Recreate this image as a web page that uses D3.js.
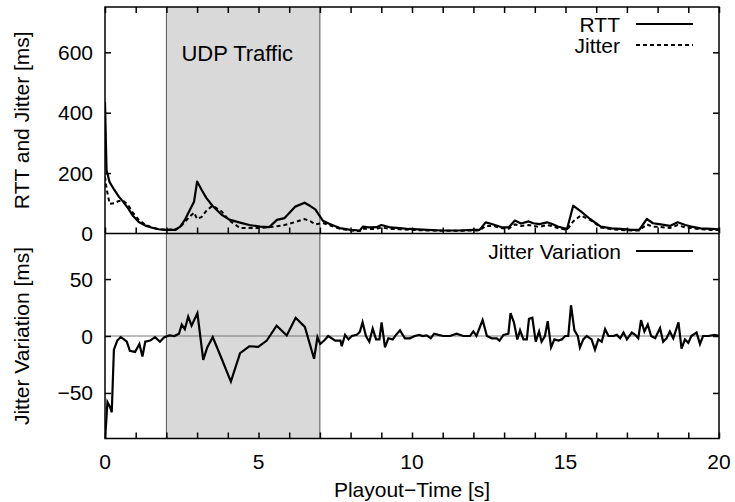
<!DOCTYPE html>
<html>
<head>
<meta charset="utf-8">
<script src="https://cdn.jsdelivr.net/npm/d3@7"></script>
<style>
  body { margin: 0; background: #fff; }
  svg { font-family: "Liberation Sans", Arial, sans-serif; }
</style>
</head>
<body>
<div id="chart"></div>
<script>
// Oberes Panel: RTT und Jitter
const topTime = [0, 0.05, 0.15, 0.3, 0.45, 0.6, 0.75, 0.9, 1.1, 1.3, 1.5, 1.75, 2.0, 2.3, 2.45, 2.6, 2.75, 2.9, 3.0, 3.15,
  3.3, 3.5, 3.8, 4.05, 4.4, 4.7, 5.05, 5.35, 5.6, 5.85, 6.2, 6.5, 6.7, 6.85, 7.1, 7.3, 7.65, 8.0, 8.3, 8.4,
  8.6, 8.85, 9.0, 9.3, 9.6, 9.9, 10.5, 11.0, 11.5, 12.0, 12.2, 12.4, 12.65, 12.95, 13.15, 13.35, 13.55, 13.8, 13.95, 14.15,
  14.4, 14.55, 14.75, 15.05, 15.25, 15.5, 15.8, 16.15, 16.5, 16.8, 17.15, 17.4, 17.65, 17.85, 18.05, 18.4, 18.65, 18.9, 19.1, 19.4,
  19.75, 20];
const rttValues = [435, 210, 170, 145, 122, 104, 84, 60, 38, 27, 20, 14, 12, 12, 23, 45, 75, 105, 172, 144,
  118, 92, 62, 46, 36, 28, 23, 21, 45, 51, 89, 102, 90, 80, 42, 32, 18, 12, 10, 23,
  20, 21, 28, 20, 18, 15, 12, 10, 10, 12, 12, 37, 30, 20, 20, 43, 33, 40, 34, 31,
  37, 32, 23, 15, 92, 73, 48, 23, 17, 15, 12, 12, 48, 34, 31, 25, 37, 28, 23, 17,
  15, 14];
const jitterValues = [188, 150, 98, 100, 108, 108, 95, 70, 45, 30, 21, 14, 12, 14, 22, 38, 55, 69, 48, 55,
  75, 92, 73, 43, 18, 18, 18, 21, 24, 28, 38, 48, 40, 30, 35, 28, 16, 10, 8, 16,
  15, 15, 20, 15, 14, 12, 10, 9, 9, 10, 10, 25, 25, 17, 16, 30, 25, 28, 25, 22,
  28, 25, 18, 12, 40, 60, 45, 20, 14, 12, 10, 10, 30, 22, 22, 18, 28, 20, 18, 14,
  12, 12];

// Unteres Panel: Jitter-Variation
const varTime = [0, 0.08, 0.16, 0.22, 0.29, 0.4, 0.51, 0.62, 0.71, 0.81, 0.98, 1.12, 1.22, 1.31, 1.47, 1.63, 1.79, 1.93, 2.1, 2.26,
  2.41, 2.5, 2.6, 2.71, 2.82, 3.01, 3.2, 3.33, 3.51, 3.8, 4.1, 4.4, 4.7, 4.99, 5.27, 5.59, 5.92, 6.21, 6.51, 6.81,
  6.92, 7.01, 7.14, 7.27, 7.5, 7.67, 7.71, 7.82, 7.93, 8.04, 8.2, 8.3, 8.39, 8.5, 8.61, 8.72, 8.83, 8.94, 9.01, 9.12,
  9.23, 9.37, 9.48, 9.61, 9.77, 9.93, 10.09, 10.24, 10.35, 10.48, 10.61, 10.72, 10.86, 11.02, 11.24, 11.45, 11.67, 11.89, 12.0, 12.1,
  12.3, 12.44, 12.6, 12.76, 12.85, 12.98, 13.14, 13.21, 13.32, 13.43, 13.52, 13.63, 13.74, 13.81, 13.92, 14.03, 14.14, 14.22, 14.33, 14.42,
  14.53, 14.64, 14.77, 14.88, 14.99, 15.09, 15.18, 15.29, 15.4, 15.47, 15.58, 15.69, 15.85, 15.96, 16.07, 16.18, 16.29, 16.4, 16.56, 16.67,
  16.78, 16.89, 17.0, 17.16, 17.27, 17.37, 17.46, 17.57, 17.68, 17.79, 17.92, 18.08, 18.18, 18.29, 18.4, 18.51, 18.68, 18.78, 18.89, 19.0,
  19.1, 19.27, 19.38, 19.48, 19.65, 19.86, 20];
const varValues = [-92, -58, -62, -67, -12, -4, -1, -3, -5, -13, -14, -7, -18, -5, -4, -1, -5, -1, 0.5, 0,
  2, 10, 6, 17, 9, 20, -21, -10, -1, -20, -40, -15, -9, -9.5, -4, 9, 0.5, 16, 8, -20,
  -1, -7, -4, 0, -4, -4, -9, 1, -3, 0, 1, 3.5, 12, 0, -5, 6.5, -3, -3, 12, -10,
  -2, -3, 1, 5, -2, -2, 0, 1, 0, 0.5, -2, 2, 1, 0, 0, 2, 0, 0, 4, 0,
  14, 0, -2, -2, -4, 1, 2, 20, 12, -3, 5, -3, -3, 15, 16, -5, 4, -5, 0, 13,
  -10, -3, -4, -3, 0, 0, 27, 5, 0, -10, -3, 0, -3, -12, -3, -5, 6, 0, 0, 1,
  -2, 3, -3, 3, 1, -2, 14, 4, 10, 0, -2, 7, -5, -2, 4, -2, 12, -11, -3, -6,
  0, 3, -7, 0, 0, 1, 0];

const udpRange = [2, 7];
const xTicks = [0, 5, 10, 15, 20];
const topTicks = [0, 200, 400, 600];
const bottomTicks = [-50, 0, 50];

const width = 735, height = 502;
const left = 105, right = 719;
const top1 = 7, bottom1 = 233.5, bottom2 = 438.5;
const fs = "21px";

const svg = d3.select("#chart").append("svg")
  .attr("width", width).attr("height", height);

const x = d3.scaleLinear().domain([0, 20]).range([left, right]);
const yTop = d3.scaleLinear().domain([0, 750]).range([bottom1, top1]);
const yBot = d3.scaleLinear().domain([-90, 90]).range([bottom2, bottom1]);

const defs = svg.append("defs");
defs.append("clipPath").attr("id", "clipTop").append("rect")
  .attr("x", left).attr("y", top1).attr("width", right - left).attr("height", bottom1 - top1);
defs.append("clipPath").attr("id", "clipBot").append("rect")
  .attr("x", left).attr("y", bottom1).attr("width", right - left).attr("height", bottom2 - bottom1);

// UDP-Bereich grau hinterlegen
svg.append("rect")
  .attr("x", x(udpRange[0])).attr("y", top1)
  .attr("width", x(udpRange[1]) - x(udpRange[0])).attr("height", bottom2 - top1)
  .style("fill", "#d9d9d9");
udpRange.forEach(v => {
  svg.append("line")
    .attr("x1", x(v)).attr("x2", x(v)).attr("y1", top1).attr("y2", bottom2)
    .style("stroke", "#555").style("stroke-width", 1);
});

svg.append("text")
  .attr("x", x(udpRange[0]) + 15).attr("y", 61)
  .style("font-size", "22px")
  .text("UDP Traffic");

// Nulllinie unten
svg.append("line")
  .attr("x1", left).attr("x2", right).attr("y1", yBot(0)).attr("y2", yBot(0))
  .style("stroke", "#777").style("stroke-width", 1);

// Linien
const topData = topTime.map((t, i) => ({ t, rtt: rttValues[i], jit: jitterValues[i] }));
const varData = varTime.map((t, i) => ({ t, v: varValues[i] }));

svg.append("path").datum(topData)
  .attr("clip-path", "url(#clipTop)")
  .attr("d", d3.line().x(d => x(d.t)).y(d => yTop(d.jit)))
  .style("fill", "none").style("stroke", "#000").style("stroke-width", 2)
  .style("stroke-dasharray", "4,3");

svg.append("path").datum(topData)
  .attr("clip-path", "url(#clipTop)")
  .attr("d", d3.line().x(d => x(d.t)).y(d => yTop(d.rtt)))
  .style("fill", "none").style("stroke", "#000").style("stroke-width", 2.2)
  .style("stroke-linejoin", "round");

svg.append("path").datum(varData)
  .attr("clip-path", "url(#clipBot)")
  .attr("d", d3.line().x(d => x(d.t)).y(d => yBot(d.v)))
  .style("fill", "none").style("stroke", "#000").style("stroke-width", 2.2)
  .style("stroke-linejoin", "miter");

// Rahmen
svg.append("rect")
  .attr("x", left).attr("y", top1).attr("width", right - left).attr("height", bottom2 - top1)
  .style("fill", "none").style("stroke", "#000").style("stroke-width", 1.5);
svg.append("line")
  .attr("x1", left).attr("x2", right).attr("y1", bottom1).attr("y2", bottom1)
  .style("stroke", "#000").style("stroke-width", 1.5);

// Achsen mit Ticks nach innen
const minorX = d3.range(0, 21, 1);
svg.append("g").attr("transform", `translate(0,${bottom1})`)
  .call(d3.axisTop(x).tickValues(minorX).tickSize(6).tickFormat(""));
svg.append("g").attr("transform", `translate(0,${top1})`)
  .call(d3.axisBottom(x).tickValues(minorX).tickSize(6).tickFormat(""));
svg.append("g").attr("transform", `translate(0,${bottom2})`)
  .call(d3.axisTop(x).tickValues(minorX).tickSize(6).tickFormat(""));

svg.append("g").attr("transform", `translate(${left},0)`)
  .call(d3.axisRight(yTop).tickValues(topTicks.slice(1)).tickSize(6).tickFormat(""));
svg.append("g").attr("transform", `translate(${right},0)`)
  .call(d3.axisLeft(yTop).tickValues(topTicks.slice(1)).tickSize(6).tickFormat(""));
svg.append("g").attr("transform", `translate(${left},0)`)
  .call(d3.axisRight(yBot).tickValues(bottomTicks).tickSize(6).tickFormat(""));
svg.append("g").attr("transform", `translate(${right},0)`)
  .call(d3.axisLeft(yBot).tickValues(bottomTicks).tickSize(6).tickFormat(""));

svg.selectAll(".domain").remove();
svg.selectAll(".tick line").style("stroke", "#000").style("stroke-width", 1.5);

// Tick-Beschriftungen
const fmt = d3.format("d");
svg.selectAll(".ylabTop").data(topTicks).enter().append("text")
  .attr("x", left - 12).attr("y", d => yTop(d) + 7.5)
  .attr("text-anchor", "end").style("font-size", fs)
  .text(d => fmt(d));
svg.selectAll(".ylabBot").data(bottomTicks).enter().append("text")
  .attr("x", left - 12).attr("y", d => yBot(d) + 7.5)
  .attr("text-anchor", "end").style("font-size", fs)
  .text(d => fmt(d));
svg.selectAll(".xlab").data(xTicks).enter().append("text")
  .attr("x", d => x(d)).attr("y", 469)
  .attr("text-anchor", "middle").style("font-size", fs)
  .text(d => fmt(d));

// Achsentitel
svg.append("text")
  .attr("x", (left + right) / 2).attr("y", 497)
  .attr("text-anchor", "middle").style("font-size", fs)
  .text("Playout\u2212Time [s]");
svg.append("text")
  .attr("transform", `translate(29,${(top1 + bottom1) / 2}) rotate(-90)`)
  .attr("text-anchor", "middle").style("font-size", fs)
  .text("RTT and Jitter [ms]");
svg.append("text")
  .attr("transform", `translate(29,${(bottom1 + bottom2) / 2}) rotate(-90)`)
  .attr("text-anchor", "middle").style("font-size", fs)
  .text("Jitter Variation [ms]");

// Legenden
const legendTop = [
  { name: "RTT", dash: null, y: 24 },
  { name: "Jitter", dash: "4,3", y: 45 }
];
legendTop.forEach(d => {
  svg.append("text").attr("x", 620).attr("y", d.y + 7.5)
    .attr("text-anchor", "end").style("font-size", fs).text(d.name);
  svg.append("line").attr("x1", 636).attr("x2", 693).attr("y1", d.y).attr("y2", d.y)
    .style("stroke", "#000").style("stroke-width", 2)
    .style("stroke-dasharray", d.dash);
});
svg.append("text").attr("x", 621).attr("y", 258.5)
  .attr("text-anchor", "end").style("font-size", fs).text("Jitter Variation");
svg.append("line").attr("x1", 636).attr("x2", 693).attr("y1", 251).attr("y2", 251)
  .style("stroke", "#000").style("stroke-width", 2);
</script>
</body>
</html>
